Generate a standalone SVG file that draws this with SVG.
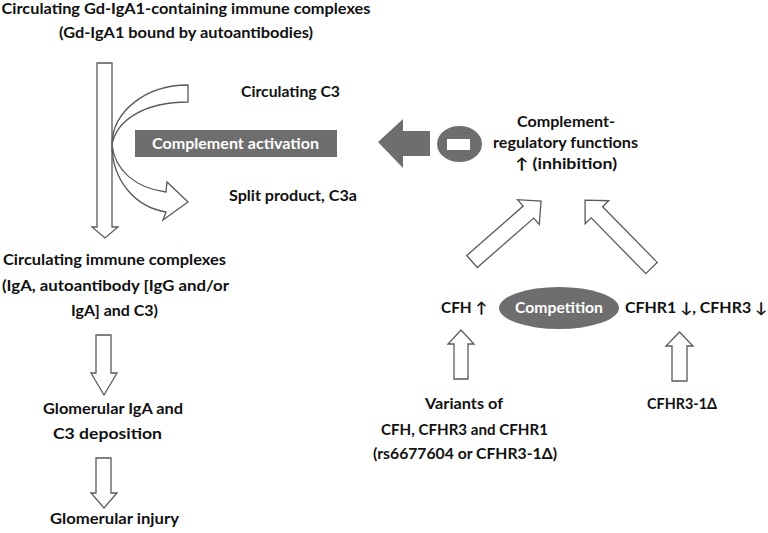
<svg xmlns="http://www.w3.org/2000/svg" width="768" height="533" viewBox="0 0 768 533">
<style>
text{font-family:Lato,"Liberation Sans","DejaVu Sans",sans-serif;font-weight:bold;font-size:15px;fill:#111;}
.w{fill:#fff;}
.hollow{fill:#fff;stroke:#5a5a5a;stroke-width:1.3;stroke-linejoin:miter;}
.solid{fill:#6e6e6e;}
</style>
<rect width="768" height="533" fill="#fff"/>

<g id="connectors">
<polygon class="hollow" points="97,63 112,63 112,227 118,227 105,238 92,227 97,227"/>
<path class="hollow" d="M188,85 C145,85 112,112 112,145 C112,180 135,207 166,212 L163,220 L188,202 L167,182 L166,192 C135,188 115,170 112,145 C116,120 145,102 188,102 Z"/>
<polygon class="solid" points="378,142 403,119 403,131 430,131 430,156 403,156 403,168"/>
<polygon class="hollow" transform="translate(472,261.5) rotate(-41.2)" points="0,-8 75,-8 75,-16.5 91.8,0 75,16.5 75,8 0,8"/>
<polygon class="hollow" transform="translate(651.5,268) rotate(-134.4)" points="0,-8 78,-8 78,-16.5 95,0 78,16.5 78,8 0,8"/>
<polygon class="hollow" points="454,379 468,379 468,344 474,344 461,330 448,344 454,344"/>
<polygon class="hollow" points="672,381 687,381 687,346 693,346 679.5,332 666,346 672,346"/>
<polygon class="hollow" points="96,335 111,335 111,373 117,373 104,395 91,373 96,373"/>
<polygon class="hollow" points="96,458 111,458 111,493 117,493 104,508 91,493 96,493"/>
</g>

<g id="n-gdiga1">
<text x="186" y="14" text-anchor="middle" textLength="369" lengthAdjust="spacingAndGlyphs">Circulating Gd-IgA1-containing  immune  complexes</text>
<text x="186" y="38" text-anchor="middle" textLength="254" lengthAdjust="spacingAndGlyphs">(Gd-IgA1 bound by autoantibodies)</text>
</g>
<g id="n-c3">
<text x="241" y="97" textLength="99" lengthAdjust="spacingAndGlyphs">Circulating C3</text>
</g>
<g id="n-activation">
<rect class="solid" x="135" y="130" width="202" height="27"/>
<text class="w" x="152" y="149" textLength="167" lengthAdjust="spacingAndGlyphs">Complement activation</text>
</g>
<g id="n-c3a">
<text x="229" y="201" textLength="128" lengthAdjust="spacingAndGlyphs">Split product, C3a</text>
</g>
<g id="n-inhibit">
<ellipse class="solid" cx="459.5" cy="144" rx="22.5" ry="18"/>
<rect class="w" x="447" y="139" width="23" height="11"/>
</g>
<g id="n-regulatory">
<text x="517" y="127" textLength="98" lengthAdjust="spacingAndGlyphs">Complement-</text>
<text x="493" y="148" textLength="145" lengthAdjust="spacingAndGlyphs">regulatory functions</text>
<text x="515" y="169" textLength="102" lengthAdjust="spacingAndGlyphs">↑  (inhibition)</text>
</g>
<g id="n-cic">
<text x="3" y="265" textLength="223" lengthAdjust="spacingAndGlyphs">Circulating immune complexes</text>
<text x="2" y="291" textLength="227" lengthAdjust="spacingAndGlyphs">(IgA, autoantibody  [IgG and/or</text>
<text x="71" y="316" textLength="87" lengthAdjust="spacingAndGlyphs">IgA] and C3)</text>
</g>
<g id="n-deposition">
<text x="43" y="414" textLength="140" lengthAdjust="spacingAndGlyphs">Glomerular IgA and</text>
<text x="53" y="439" textLength="109" lengthAdjust="spacingAndGlyphs">C3 deposition</text>
</g>
<g id="n-injury">
<text x="50" y="524" textLength="129" lengthAdjust="spacingAndGlyphs">Glomerular injury</text>
</g>
<g id="n-cfh">
<text x="441" y="313" textLength="46" lengthAdjust="spacingAndGlyphs">CFH ↑</text>
</g>
<g id="n-competition">
<ellipse class="solid" cx="559" cy="308" rx="60" ry="21"/>
<text class="w" x="515" y="313" textLength="88" lengthAdjust="spacingAndGlyphs">Competition</text>
</g>
<g id="n-cfhr">
<text x="625" y="313" textLength="142" lengthAdjust="spacingAndGlyphs">CFHR1 ↓, CFHR3 ↓</text>
</g>
<g id="n-variants">
<text x="425" y="409" textLength="78" lengthAdjust="spacingAndGlyphs">Variants of</text>
<text x="381" y="435" textLength="167" lengthAdjust="spacingAndGlyphs">CFH, CFHR3 and CFHR1</text>
<text x="373" y="459" textLength="184" lengthAdjust="spacingAndGlyphs">(rs6677604  or CFHR3-1Δ)</text>
</g>
<g id="n-deletion">
<text x="647" y="409" textLength="70" lengthAdjust="spacingAndGlyphs">CFHR3-1Δ</text>
</g>
</svg>
